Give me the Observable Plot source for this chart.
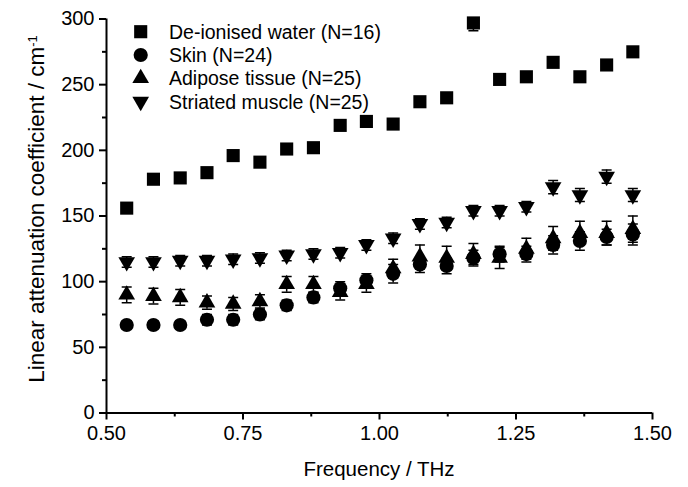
<!DOCTYPE html>
<html>
<head>
<meta charset="utf-8">
<script src="https://cdn.jsdelivr.net/npm/d3@7"></script>
<script src="https://cdn.jsdelivr.net/npm/@observablehq/plot@0.6"></script>
<style>
  html, body { margin: 0; padding: 0; background: #fff; }
  #chart svg { display: block; }
</style>
</head>
<body>
<div id="chart"></div>
<script>
// ---- Data ----
const freq = [0.537, 0.586, 0.635, 0.684, 0.732, 0.781, 0.830, 0.879, 0.928, 0.976,
              1.025, 1.074, 1.123, 1.172, 1.220, 1.269, 1.318, 1.367, 1.416, 1.464];
const water    = [156, 178, 179, 183, 196, 191, 201, 202, 219, 222, 220, 237, 240, 297, 254, 256, 267, 256, 265, 275];
const waterErr = [2, 2, 2, 2, 2, 2, 2, 2, 2, 2, 2, 2, 2, 6, 2, 2, 2, 2, 2, 2];
const skin     = [67, 67, 67, 71, 71, 75, 82, 88, 95, 101, 106, 113, 112, 118, 121, 121, 128, 131, 134, 136];
const skinErr  = [3, 3, 3, 4, 4, 4, 4, 4, 5, 5, 7, 6, 6, 6, 6, 6, 7, 7, 6, 8];
const adipose    = [90, 89, 88, 84, 83, 85, 98, 98, 92, 98, 110, 119, 118, 121, 118, 125, 133, 137, 137, 140];
const adiposeErr = [6, 6, 6, 5, 5, 5, 6, 6, 6, 6, 7, 9, 9, 8, 8, 8, 9, 9, 9, 10];
const muscle    = [115, 115, 116, 116, 117, 118, 120, 121, 122, 128, 133, 144, 145, 154, 154, 157, 172, 166, 180, 166];
const muscleErr = [4, 4, 4, 4, 4, 4, 4, 4, 4, 4, 4, 4, 4, 4, 4, 4, 5, 5, 5, 5];

const seriesNames = ["De-ionised water (N=16)", "Skin (N=24)", "Adipose tissue (N=25)", "Striated muscle (N=25)"];
const xTicks = [0.5, 0.75, 1.0, 1.25, 1.5];
const xMinorTicks = [0.625, 0.875, 1.125, 1.375];
const yTicks = [0, 50, 100, 150, 200, 250, 300];
const yMinorTicks = [25, 75, 125, 175, 225, 275];
const xTitle = "Frequency / THz";
const yTitle = "Linear attenuation coefficient / cm";
const yTitleSup = "-1";

// ---- Styling ----
const FONT = "'Liberation Sans', Arial, Helvetica, sans-serif";
const symbolDefs = [
  {symbol: "square", rotate: 0, r: 7.4},
  {symbol: "circle", rotate: 0, r: 7.1},
  {symbol: "triangle", rotate: 0, r: 6.2},
  {symbol: "triangle", rotate: 180, r: 6.2}
];
const valuesList = [water, skin, adipose, muscle];
const errList = [waterErr, skinErr, adiposeErr, muscleErr];

const series = seriesNames.map((name, k) => ({
  name, ...symbolDefs[k],
  rows: freq.map((f, i) => ({f, v: valuesList[k][i], e: errList[k][i]}))
}));
const allRows = series.flatMap(s => s.rows);

const capSymbol = {
  draw(context) {
    context.moveTo(-5, 0);
    context.lineTo(5, 0);
  }
};

const W = 688, H = 487;
const chart = Plot.plot({
  width: W,
  height: H,
  marginLeft: 106,
  marginRight: 36,
  marginTop: 18.5,
  marginBottom: 74.5,
  x: {domain: [0.5, 1.5], axis: null},
  y: {domain: [0, 300], axis: null},
  style: {fontFamily: FONT, fontSize: "20px", color: "black", background: "white", overflow: "visible"},
  marks: [
    // error bars
    Plot.ruleX(allRows, {x: "f", y1: d => d.v - d.e, y2: d => d.v + d.e, stroke: "black", strokeWidth: 1.5, clip: true}),
    Plot.dot(allRows, {x: "f", y: d => d.v - d.e, symbol: capSymbol, r: 3, stroke: "black", strokeWidth: 1.5, fill: "none", clip: true}),
    Plot.dot(allRows, {x: "f", y: d => d.v + d.e, symbol: capSymbol, r: 3, stroke: "black", strokeWidth: 1.5, fill: "none", clip: true}),
    // markers
    ...series.map(s => Plot.dot(s.rows, {
      x: "f", y: "v", symbol: s.symbol, rotate: s.rotate, r: s.r, fill: "black", stroke: "none"
    })),
    // axes
    Plot.axisX({ticks: xTicks, tickFormat: d3.format(".2f"), tickSize: 7, tickPadding: 6, strokeWidth: 2, label: null, fontSize: 20}),
    Plot.axisX({ticks: xMinorTicks, tickFormat: () => "", tickSize: 4, strokeWidth: 2, label: null}),
    Plot.axisY({ticks: yTicks, tickFormat: d3.format("d"), tickSize: 7, tickPadding: 5, strokeWidth: 2, label: null, fontSize: 20}),
    Plot.axisY({ticks: yMinorTicks, tickFormat: () => "", tickSize: 4, strokeWidth: 2, label: null}),
    Plot.ruleY([0], {stroke: "black", strokeWidth: 2}),
    Plot.ruleX([0.5], {stroke: "black", strokeWidth: 2})
  ]
});

const svg = d3.select(chart);

// Axis titles
svg.append("text")
  .attr("x", 379).attr("y", 476)
  .attr("text-anchor", "middle")
  .attr("font-family", FONT).attr("font-size", 20.5).attr("fill", "black")
  .text(xTitle);

const yt = svg.append("text")
  .attr("transform", "translate(44,209) rotate(-90)")
  .attr("text-anchor", "middle")
  .attr("font-family", FONT).attr("font-size", 22.5).attr("fill", "black");
yt.append("tspan").text(yTitle);
yt.append("tspan").attr("dy", "-0.55em").attr("font-size", 13).text(yTitleSup);

// Legend
const legend = svg.append("g");
const legendY0 = 31.7, legendDy = 23.3;
series.forEach((s, k) => {
  const y = legendY0 + k * legendDy;
  legend.append("path")
    .attr("d", d3.symbol(s.symbol === "square" ? d3.symbolSquare : s.symbol === "circle" ? d3.symbolCircle : d3.symbolTriangle, s.r * s.r * Math.PI)())
    .attr("transform", `translate(140.7,${y}) rotate(${s.rotate})`)
    .attr("fill", "black");
  legend.append("text")
    .attr("x", 169).attr("y", y).attr("dy", "0.36em")
    .attr("text-anchor", "start")
    .attr("font-family", FONT).attr("font-size", 19.5).attr("fill", "black")
    .text(s.name);
});

document.getElementById("chart").appendChild(chart);
</script>
</body>
</html>
